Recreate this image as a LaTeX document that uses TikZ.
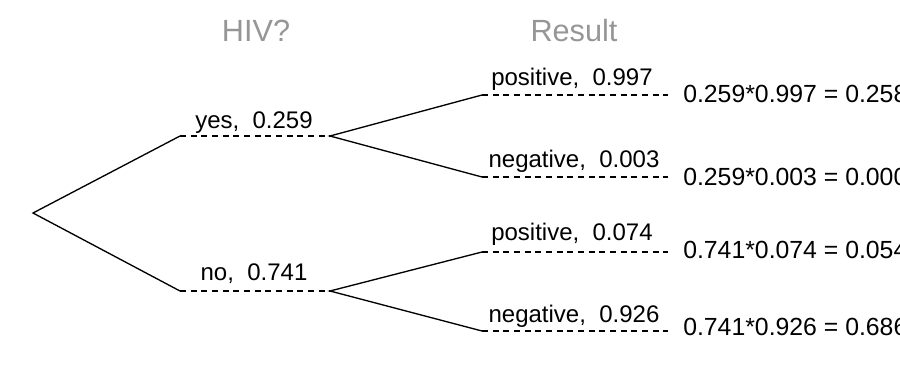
\documentclass[tikz,border=0pt]{standalone}
\usepackage{fontspec}
\setmainfont{Liberation Sans}
\definecolor{headgray}{RGB}{150,150,150}

\begin{document}
\begin{tikzpicture}[x=0.75pt,y=0.75pt,yscale=-1,xscale=1,
  branch/.style={line width=1pt},
  stub/.style={line width=1pt,dash pattern=on 4.5pt off 3.5pt},
  lbl/.style={anchor=base,inner sep=0pt,font=\fontsize{18}{22}\selectfont},
  res/.style={anchor=base west,inner sep=0pt,font=\fontsize{18.6}{23}\selectfont},
  head/.style={anchor=base,inner sep=0pt,text=headgray,font=\fontsize{23}{27}\selectfont}]
\useasboundingbox (0,0) rectangle (900,375);
\clip (0,0) rectangle (900,375);

%Tree points
\coordinate (root) at (33,213);
\coordinate (yesA) at (180,136);
\coordinate (yesB) at (330,136);
\coordinate (noA) at (180,291);
\coordinate (noB) at (330,291);
\coordinate (ypA) at (482,95);
\coordinate (ypB) at (668,95);
\coordinate (ynA) at (482,177);
\coordinate (ynB) at (668,177);
\coordinate (npA) at (482,252);
\coordinate (npB) at (668,252);
\coordinate (nnA) at (482,331);
\coordinate (nnB) at (668,331);

%Straight Lines
\draw [branch] (yesA) -- (root) -- (noA);
\draw [branch] (ypA) -- (yesB) -- (ynA);
\draw [branch] (npA) -- (noB) -- (nnA);
%Dashed Lines
\draw [stub] (yesA) -- (yesB);
\draw [stub] (noA) -- (noB);
\draw [stub] (ypA) -- (ypB);
\draw [stub] (ynA) -- (ynB);
\draw [stub] (npA) -- (npB);
\draw [stub] (nnA) -- (nnB);

% Text Node
\node (hiv) [head] at (256,41) {HIV?};
% Text Node
\node (result) [head] at (574,41) {Result};
% Text Node
\node (yeslbl) [lbl] at (254,128) {yes,~~0.259};
% Text Node
\node (nolbl) [lbl] at (254,280) {no,~~0.741};
% Text Node
\node (yplbl) [lbl] at (572,85) {positive,~~0.997};
% Text Node
\node (ynlbl) [lbl] at (574,167) {negative,~~0.003};
% Text Node
\node (nplbl) [lbl] at (572,240) {positive,~~0.074};
% Text Node
\node (nnlbl) [lbl] at (574,322) {negative,~~0.926};
% Text Node
\node (ypres) [res] at (683,102) {0.259*0.997 = 0.2582};
% Text Node
\node (ynres) [res] at (683,185) {0.259*0.003 = 0.0008};
% Text Node
\node (npres) [res] at (683,258) {0.741*0.074 = 0.0548};
% Text Node
\node (nnres) [res] at (683,335) {0.741*0.926 = 0.6862};

\end{tikzpicture}
\end{document}
